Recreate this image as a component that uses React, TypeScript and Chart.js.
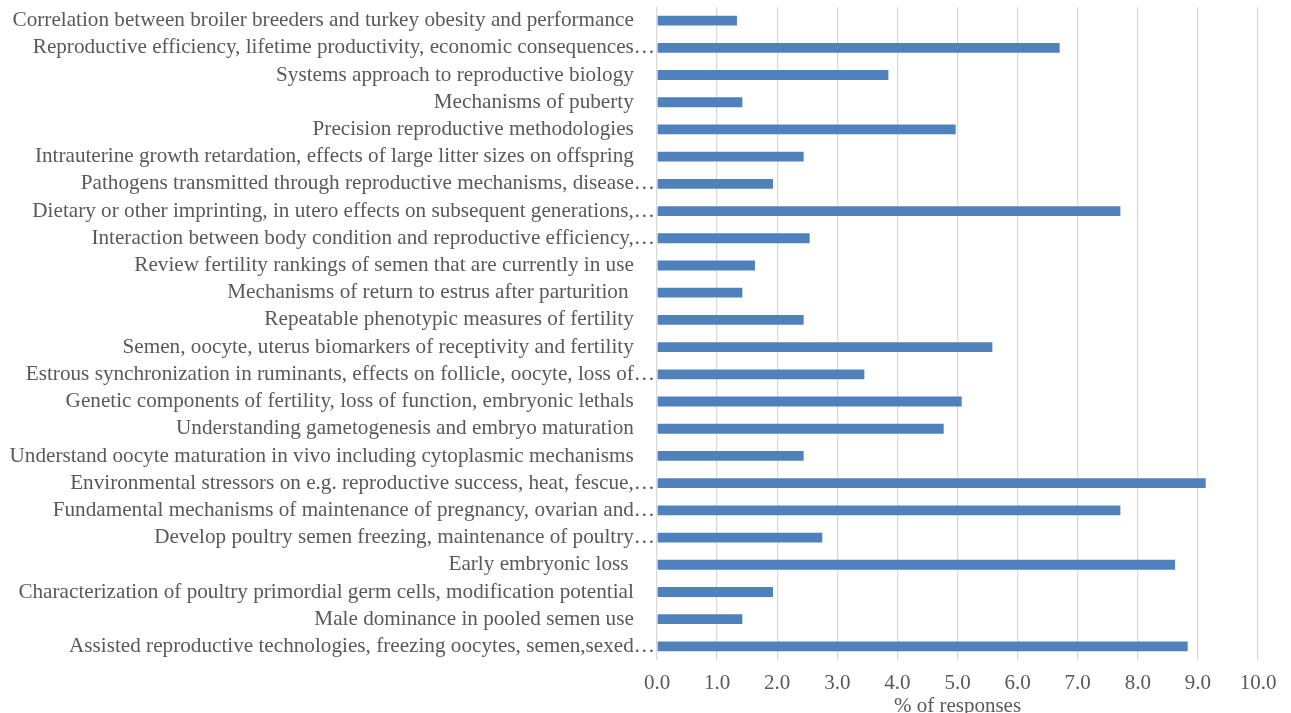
import React, { useEffect, useRef } from "react";
import { Chart, registerables } from "chart.js";

Chart.register(...registerables);

const categories: string[] = [
  "Correlation between broiler breeders and turkey obesity and performance",
  "Reproductive efficiency, lifetime productivity, economic consequences…",
  "Systems approach to reproductive biology",
  "Mechanisms of puberty",
  "Precision reproductive methodologies",
  "Intrauterine growth retardation, effects of large litter sizes on offspring",
  "Pathogens transmitted through reproductive mechanisms, disease…",
  "Dietary or other imprinting, in utero effects on subsequent generations,…",
  "Interaction between body condition and reproductive efficiency,…",
  "Review fertility rankings of semen that are currently in use",
  "Mechanisms of return to estrus after parturition ",
  "Repeatable phenotypic measures of fertility",
  "Semen, oocyte, uterus biomarkers of receptivity and fertility",
  "Estrous synchronization in ruminants, effects on follicle, oocyte, loss of…",
  "Genetic components of fertility, loss of function, embryonic lethals",
  "Understanding gametogenesis and embryo maturation",
  "Understand oocyte maturation in vivo including cytoplasmic mechanisms",
  "Environmental stressors on e.g. reproductive success, heat, fescue,…",
  "Fundamental mechanisms of maintenance of pregnancy, ovarian and…",
  "Develop poultry semen freezing, maintenance of poultry…",
  "Early embryonic loss ",
  "Characterization of poultry primordial germ cells, modification potential",
  "Male dominance in pooled semen use",
  "Assisted reproductive technologies, freezing oocytes, semen,sexed…",
];

const responsePercent: number[] = [
  1.33, 6.7, 3.85, 1.42, 4.97, 2.44, 1.93, 7.71, 2.54, 1.63, 1.42, 2.44,
  5.58, 3.45, 5.07, 4.77, 2.44, 9.13, 7.71, 2.75, 8.62, 1.93, 1.42, 8.83,
];

const xMin = 0;
const xMax = 10;
const xStep = 1;
const xTitle = "% of responses";

export default function App() {
  const canvasRef = useRef<HTMLCanvasElement | null>(null);

  useEffect(() => {
    document.body.style.margin = "0";
    document.body.style.overflow = "hidden";
    const canvas = canvasRef.current;
    if (!canvas) return;
    const family = "'Liberation Serif', 'Times New Roman', serif";
    const font = { family, size: 21 };
    const chart = new Chart(canvas, {
      type: "bar",
      data: {
        labels: categories,
        datasets: [
          {
            data: responsePercent,
            backgroundColor: "#4F81BD",
            borderWidth: 0,
            barPercentage: 0.36,
            categoryPercentage: 1,
          },
        ],
      },
      options: {
        indexAxis: "y",
        animation: false,
        responsive: false,
        maintainAspectRatio: false,
        devicePixelRatio: 1,
        layout: { padding: { left: 0, right: 33, top: 7, bottom: 0 } },
        plugins: { legend: { display: false }, tooltip: { enabled: false } },
        scales: {
          x: {
            min: xMin,
            max: xMax,
            border: { display: false },
            grid: { color: "#D9D9D9", lineWidth: 1.3, drawTicks: false },
            ticks: {
              stepSize: xStep,
              color: "#595959",
              font,
              padding: 11,
              callback: (v: any) => Number(v).toFixed(1),
            },
            title: {
              display: true,
              text: xTitle,
              color: "#595959",
              font: { ...font, lineHeight: 1 },
              padding: { top: 0, bottom: -4 },
            },
            afterFit: (scale: any) => {
              scale.height = 53;
              scale.paddingLeft = 0;
              scale.paddingRight = 0;
            },
          },
          y: {
            border: { display: false },
            grid: { display: false, drawTicks: false },
            ticks: {
              autoSkip: false,
              color: "#595959",
              font: { family, size: 21.2 },
              padding: 2,
              callback: function (this: any, _v: any, i: number) {
                const s = categories[i];
                return s.endsWith("…") ? s : s + "    ";
              },
            },
            afterFit: (scale: any) => {
              scale.width = 657;
              scale.paddingTop = 0;
              scale.paddingBottom = 0;
            },
          },
        },
      },
    });
    return () => chart.destroy();
  }, []);

  return (
    <div style={{ position: "absolute", left: 0, top: 0, width: 1291, height: 713 }}>
      <canvas ref={canvasRef} width={1291} height={713} style={{ width: 1291, height: 713 }} />
    </div>
  );
}
